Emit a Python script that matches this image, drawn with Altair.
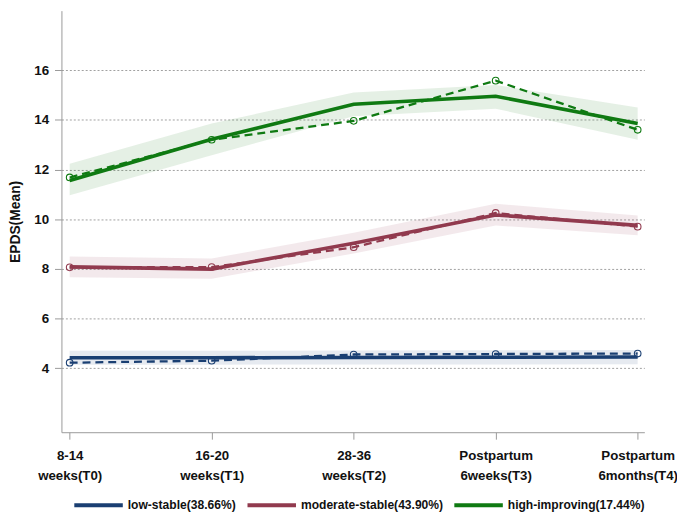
import altair as alt
import pandas as pd

# ---- data ----
time_labels = [["8-14", "weeks(T0)"], ["16-20", "weeks(T1)"], ["28-36", "weeks(T2)"],
               ["Postpartum", "6weeks(T3)"], ["Postpartum", "6months(T4)"]]
time_idx = [0, 1, 2, 3, 4]

groups = ["low-stable(38.66%)", "moderate-stable(43.90%)", "high-improving(17.44%)"]
colors = ["#1a3f72", "#913a4e", "#0f7a12"]

low_est = [4.42, 4.42, 4.43, 4.44, 4.45]
low_obs = [4.22, 4.30, 4.55, 4.57, 4.59]
low_lo = [4.14, 4.14, 4.15, 4.15, 4.16]
low_hi = [4.70, 4.70, 4.71, 4.72, 4.73]

mod_est = [8.08, 7.99, 9.03, 10.17, 9.75]
mod_obs = [8.06, 8.07, 8.87, 10.25, 9.70]
mod_lo = [7.66, 7.60, 8.62, 9.75, 9.35]
mod_hi = [8.50, 8.42, 9.45, 10.62, 10.15]

high_est = [11.56, 13.22, 14.63, 14.95, 13.85]
high_obs = [11.68, 13.20, 13.96, 15.58, 13.60]
high_lo = [10.96, 12.58, 14.15, 14.45, 13.20]
high_hi = [12.23, 13.85, 15.10, 15.40, 14.50]

est = [low_est, mod_est, high_est]
obs = [low_obs, mod_obs, high_obs]
lo = [low_lo, mod_lo, high_lo]
hi = [low_hi, mod_hi, high_hi]

rows = []
for g, name in enumerate(groups):
    for i, t in enumerate(time_idx):
        rows.append({"group": name, "t": t, "est": est[g][i], "obs": obs[g][i],
                     "lo": lo[g][i], "hi": hi[g][i]})
df = pd.DataFrame(rows)

label_js = "[" + ",".join("[" + ",".join("'%s'" % s for s in lab) + "]" for lab in time_labels) + "]"

FONT = "Liberation Sans"
GRAY = "#9a9a9a"

color_scale = alt.Scale(domain=groups, range=colors)
xs = alt.Scale(domain=[-0.058, 4.047], nice=False, zero=False)
ys = alt.Scale(domain=[1.42, 18.40], nice=False, zero=False)

legend = alt.Legend(title=None, orient="none", legendX=11, legendY=473,
                    direction="horizontal", symbolType="stroke",
                    symbolSize=2401, symbolStrokeWidth=4, symbolOpacity=1,
                    labelFont=FONT, labelFontSize=12.2,
                    labelFontWeight="bold", labelColor="#111111",
                    labelOffset=3, columnPadding=3, padding=0,
                    labelLimit=300)
color_enc = alt.Color("group:N", scale=color_scale, sort=groups, legend=legend)

x_axis = alt.Axis(values=time_idx, labelExpr=label_js + "[round(datum.value)]",
                  grid=False, title=None, domainColor=GRAY, tickColor=GRAY,
                  tickSize=7, labelPadding=10, labelFontSize=13.4, labelFont=FONT,
                  labelFontWeight="bold", labelColor="#111111", labelLineHeight=19.5,
                  labelBaseline="top", labelFlush=False, labelOverlap=False)
y_axis = alt.Axis(values=[4, 6, 8, 10, 12, 14, 16], grid=True, gridDash=[2, 2],
                  gridColor="#a0a0a0", gridWidth=1, domainColor=GRAY, tickColor=GRAY,
                  tickSize=7, labelPadding=6, labelFontSize=13.5, labelFont=FONT,
                  labelFontWeight="bold", labelColor="#111111",
                  title="EPDS(Mean)", titleFont=FONT, titleFontSize=14,
                  titleFontWeight="bold", titleColor="#111111", titleAngle=270,
                  titleBaseline="bottom", titleX=-39)

base = alt.Chart(df)

band = base.mark_area(opacity=0.11, interpolate="linear").encode(
    x=alt.X("t:Q", scale=xs, axis=x_axis),
    y=alt.Y("lo:Q", scale=ys, axis=y_axis),
    y2="hi:Q",
    color=color_enc,
    detail="group:N",
)

dashed = base.mark_line(strokeDash=[8, 5], strokeWidth=2.3).encode(
    x=alt.X("t:Q", scale=xs),
    y=alt.Y("obs:Q", scale=ys),
    color=color_enc,
    detail="group:N",
)

solid = base.mark_line(strokeWidth=3.6).encode(
    x=alt.X("t:Q", scale=xs),
    y=alt.Y("est:Q", scale=ys),
    color=color_enc,
)

points = base.mark_point(shape="circle", filled=False, size=45, strokeWidth=1.1,
                         opacity=1).encode(
    x=alt.X("t:Q", scale=xs),
    y=alt.Y("obs:Q", scale=ys),
    color=color_enc,
)

chart = alt.layer(band, dashed, solid, points).properties(
    width=589, height=426,
    autosize=alt.AutoSizeParams(type="none"),
    padding={"left": 54, "top": 0, "right": 33, "bottom": 82},
    background="white",
).configure_view(stroke=None)

chart.save("out.html", embed_options={"renderer": "svg", "actions": False})
